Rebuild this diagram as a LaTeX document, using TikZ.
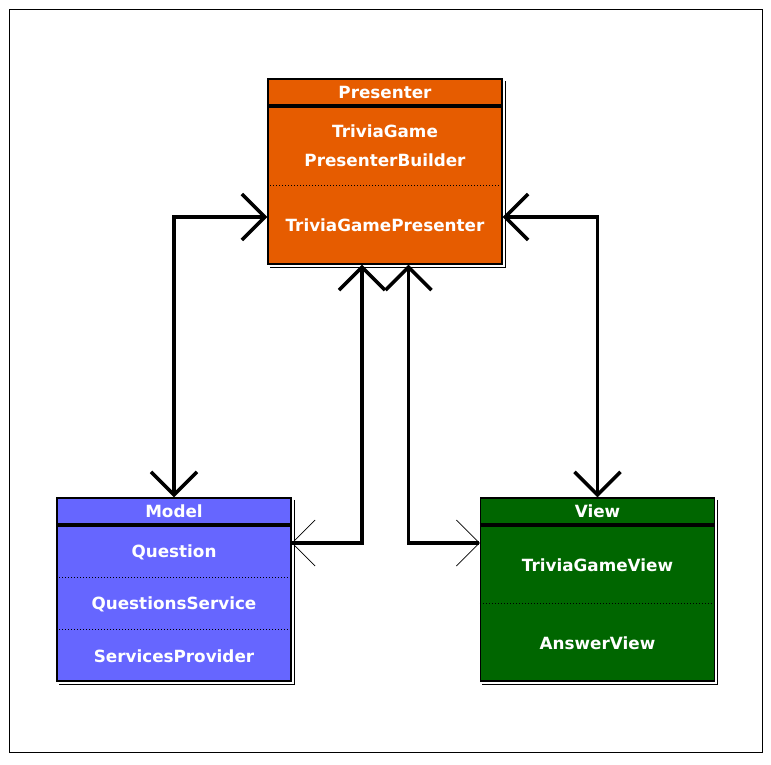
\documentclass[tikz,border=0pt]{standalone}
\usepackage{fontspec}
\setmainfont{DejaVu Sans}
\usetikzlibrary{arrows.meta,calc}
\definecolor{presorange}{RGB}{230,92,0}
\definecolor{modelblue}{RGB}{102,102,255}
\definecolor{viewgreen}{RGB}{0,102,0}
\begin{document}
\begin{tikzpicture}[x=1pt,y=-1pt,
    umlbox/.style={draw,line width=1.3pt,minimum width=234pt,minimum height=184pt,inner sep=0pt},
    headline/.style={line width=4pt},
    sepline/.style={line width=1pt,dotted},
    shadowline/.style={line width=0.8pt},
    txt/.style={text=white,font=\bfseries\fontsize{16.8}{19}\selectfont,inner sep=0pt},
    bigtip/.tip={Straight Barb[length=23pt,width=46pt,line width=3.5pt]},
    thintip/.tip={Straight Barb[length=23pt,width=46pt,line width=0.7pt]},
    link/.style={line width=3.5pt}]
      \useasboundingbox (0,0) rectangle (771,764);
      \draw[line width=1pt] (9,9) rectangle (762,752);

      % the three packages
      \node[umlbox,fill=presorange,minimum height=185pt] (presenter) at (385,171.5) {};
      \node[umlbox,fill=modelblue,minimum height=183pt] (model) at (174,589.5) {};
      \node[umlbox,fill=viewgreen,minimum height=183pt] (view) at (597.5,589.5) {};

      \foreach \b in {presenter,model,view} {
        \draw[shadowline] ([shift={(2.5pt,-2.5pt)}]\b.north east) -- ([shift={(2.5pt,-2.5pt)}]\b.south east) -- ([shift={(2.5pt,-2.5pt)}]\b.south west);
        \draw[headline] ([yshift=-27.5pt]\b.north west) -- ([yshift=-27.5pt]\b.north east);
      }

      \draw[sepline] ([yshift=-107pt]presenter.north west) -- ([yshift=-107pt]presenter.north east);
      \draw[sepline] ([yshift=-80pt]model.north west) -- ([yshift=-80pt]model.north east);
      \draw[sepline] ([yshift=-132pt]model.north west) -- ([yshift=-132pt]model.north east);
      \draw[sepline] ([yshift=-106pt]view.north west) -- ([yshift=-106pt]view.north east);

      \node[txt] (ptitle) at (385,92) {Presenter};
      \node[txt] (pbuilder1) at (385,131) {TriviaGame};
      \node[txt] (pbuilder2) at (385,160) {PresenterBuilder};
      \node[txt] (pgame) at (385,225) {TriviaGamePresenter};

      \node[txt] (mtitle) at (174,511) {Model};
      \node[txt] (mquestion) at (174,552) {Question};
      \node[txt] (mservice) at (174,604) {QuestionsService};
      \node[txt] (mprovider) at (174,656) {ServicesProvider};

      \node[txt] (vtitle) at (597.5,511) {View};
      \node[txt] (vgame) at (597.5,565) {TriviaGameView};
      \node[txt] (vanswer) at (597.5,643) {AnswerView};

      % links
      \draw[link,bigtip-bigtip] (model.north) |- (presenter.west |- 0,217);
      \draw[link,bigtip-bigtip] (view.north) |- (presenter.east |- 0,217);
      \draw[link,bigtip-thintip] (presenter.south -| 362,0) |- (model.east |- 0,543);
      \draw[link,bigtip-thintip] (presenter.south -| 408.5,0) |- (view.west |- 0,543);
    \end{tikzpicture}
\end{document}
